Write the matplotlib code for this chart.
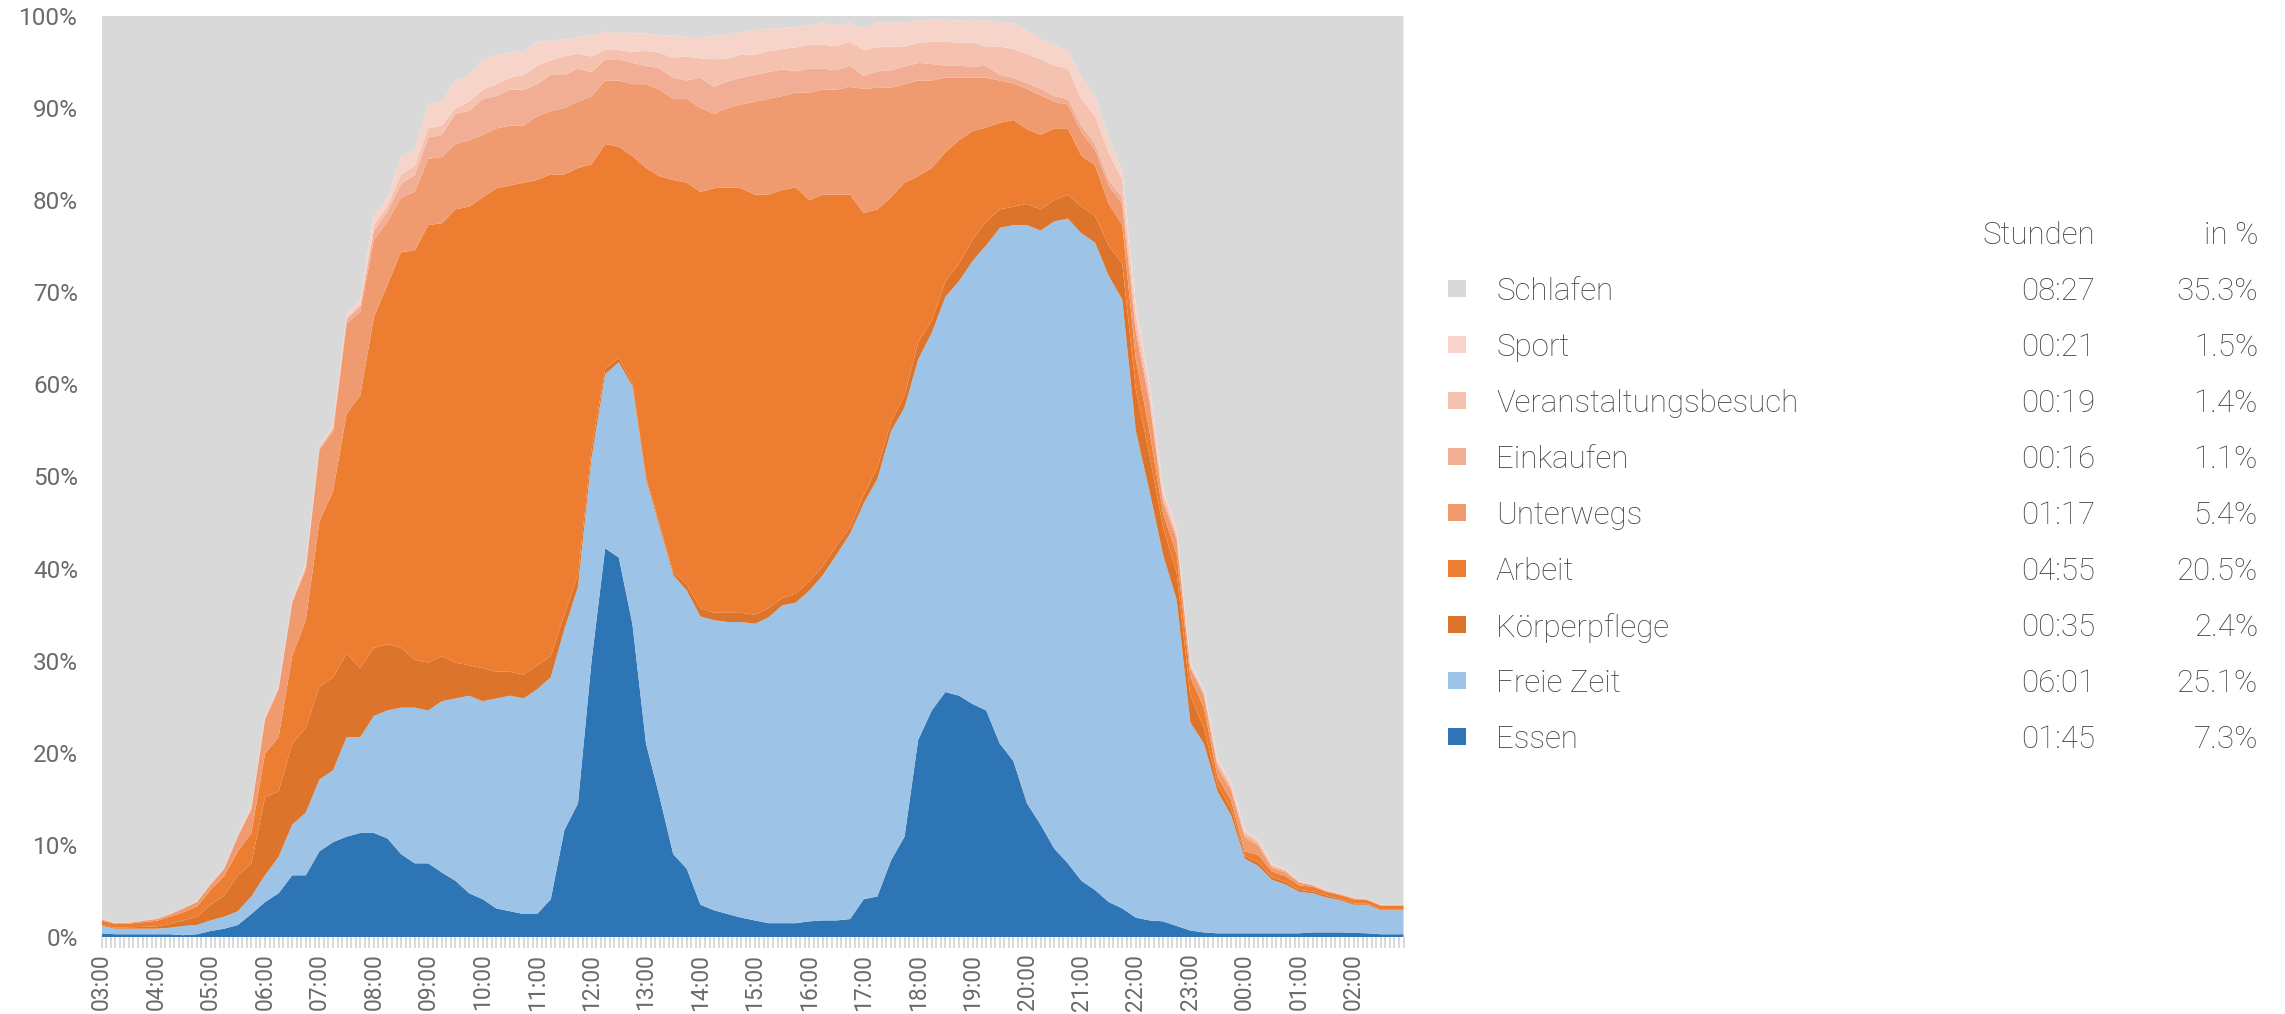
import numpy as np
import matplotlib.pyplot as plt
from matplotlib.patches import Rectangle

plt.rcParams['font.family'] = ['Roboto', 'DejaVu Sans']

# --- data: share of people per activity (%), 15-min steps from 03:00, last point 02:55 ---
minutes = list(range(0, 24 * 60, 15)) + [23 * 60 + 55]

essen = [0.4, 0.3, 0.3, 0.3, 0.3, 0.3, 0.2, 0.3, 0.65, 0.9, 1.3, 2.5,
         3.8, 4.75, 6.7, 6.7, 9.3, 10.3, 10.9, 11.3, 11.3, 10.7, 9.0, 8.0,
         8.0, 7.0, 6.1, 4.75, 4.1, 3.1, 2.8, 2.5, 2.5, 4.1, 11.6, 14.5,
         30.0, 42.2, 41.2, 34.0, 21.0, 15.2, 9.0, 7.4, 3.5, 2.9, 2.5, 2.1,
         1.8, 1.5, 1.5, 1.5, 1.7, 1.8, 1.8, 1.95, 4.1, 4.4, 8.3, 10.9,
         21.4, 24.6, 26.6, 26.2, 25.3, 24.6, 21.0, 19.1, 14.5, 12.2, 9.6, 8.0,
         6.1, 5.1, 3.8, 3.1, 2.1, 1.8, 1.7, 1.2, 0.7, 0.5, 0.4, 0.4,
         0.4, 0.4, 0.4, 0.4, 0.4, 0.5, 0.5, 0.5, 0.45, 0.4, 0.3, 0.3, 0.3]
freie_zeit = [0.8, 0.6, 0.6, 0.6, 0.6, 0.7, 1.0, 1.0, 1.15, 1.3, 1.5, 1.9,
              2.9, 3.95, 5.5, 6.8, 7.8, 7.8, 10.8, 10.4, 12.7, 13.9, 15.9, 16.9,
              16.6, 18.6, 19.8, 21.45, 21.5, 22.8, 23.4, 23.4, 24.4, 24.1, 21.8, 23.5,
              22.0, 18.9, 21.2, 25.8, 28.7, 29.3, 30.3, 30.2, 31.3, 31.5, 31.7, 32.1,
              32.2, 33.2, 34.5, 34.8, 35.9, 37.5, 39.7, 41.85, 43.0, 45.3, 46.6, 46.6,
              41.3, 41.0, 42.9, 45.0, 48.1, 50.5, 56.0, 58.2, 62.8, 64.5, 68.1, 70.0,
              70.3, 70.3, 68.0, 66.1, 52.8, 46.6, 39.8, 35.4, 22.6, 20.5, 15.4, 12.8,
              8.1, 7.3, 5.8, 5.3, 4.5, 4.25, 3.8, 3.5, 3.05, 3.1, 2.6, 2.6, 2.6]
koerperpflege = [0.1, 0.1, 0.15, 0.2, 0.25, 0.4, 0.6, 0.9, 1.7, 2.3, 3.9, 3.6,
                 8.5, 7.1, 8.8, 9.2, 10.1, 10.1, 9.1, 7.5, 7.4, 7.2, 6.5, 5.2,
                 5.2, 4.9, 3.9, 3.3, 3.6, 2.9, 2.6, 2.6, 2.6, 2.3, 1.6, 1.3,
                 1.0, 0.6, 0.5, 0.3, 0.3, 0.3, 0.3, 0.7, 0.9, 0.8, 1.0, 1.0,
                 1.0, 1.0, 0.8, 1.0, 1.0, 1.0, 1.0, 0.7, 0.9, 1.3, 1.0, 1.3,
                 1.9, 1.3, 1.7, 1.9, 2.3, 2.6, 2.0, 2.0, 2.3, 2.3, 2.3, 2.6,
                 2.9, 2.9, 3.3, 3.9, 4.5, 3.9, 3.0, 2.9, 2.9, 1.7, 0.7, 0.7,
                 0.3, 0.4, 0.3, 0.3, 0.2, 0.2, 0.2, 0.15, 0.15, 0.1, 0.1, 0.1, 0.1]
arbeit = [0.5, 0.4, 0.4, 0.5, 0.6, 0.8, 0.9, 1.1, 1.6, 2.1, 2.6, 3.3,
          4.7, 5.9, 9.5, 11.7, 17.9, 20.2, 26.0, 29.6, 35.9, 39.0, 43.0, 44.4,
          47.5, 47.0, 49.2, 49.8, 51.1, 52.5, 52.8, 53.4, 52.7, 52.3, 47.8, 44.2,
          30.9, 24.4, 22.9, 24.7, 33.5, 37.8, 42.6, 43.6, 45.2, 46.1, 46.2, 46.1,
          45.6, 44.9, 44.3, 44.1, 41.4, 40.3, 38.1, 36.1, 30.6, 28.0, 24.4, 23.1,
          18.0, 16.6, 14.0, 13.4, 11.8, 10.2, 9.4, 9.4, 8.1, 8.1, 7.8, 7.2,
          5.5, 5.5, 4.5, 4.2, 3.3, 2.6, 1.5, 2.0, 2.0, 2.2, 0.9, 0.9,
          0.5, 0.8, 0.6, 0.6, 0.5, 0.5, 0.4, 0.4, 0.45, 0.4, 0.4, 0.4, 0.4]
unterwegs = [0.1, 0.1, 0.1, 0.15, 0.2, 0.25, 0.4, 0.5, 0.6, 0.8, 1.6, 2.6,
             3.7, 5.2, 5.8, 5.5, 7.8, 6.5, 9.8, 9.1, 8.4, 6.9, 5.9, 6.4,
             7.2, 7.2, 7.1, 7.2, 6.8, 6.5, 6.5, 6.2, 6.9, 6.9, 7.2, 7.2,
             7.4, 6.9, 7.2, 7.8, 9.1, 9.4, 8.8, 9.1, 9.1, 8.1, 8.6, 9.1,
             10.1, 10.4, 10.2, 10.3, 11.7, 11.4, 11.4, 11.7, 13.5, 13.2, 11.9, 10.7,
             10.4, 9.5, 8.1, 6.8, 5.8, 5.4, 4.6, 4.0, 4.4, 4.3, 2.9, 2.6,
             2.6, 1.7, 2.0, 2.3, 3.0, 3.2, 1.2, 1.7, 1.0, 1.3, 1.0, 1.1,
             1.5, 1.0, 0.4, 0.4, 0.3, 0.15, 0.1, 0.1, 0.1, 0.05, 0.05, 0.05, 0.05]
einkaufen = [0.05, 0.03, 0.03, 0.03, 0.03, 0.03, 0.03, 0.03, 0.05, 0.05, 0.1, 0.1,
             0.2, 0.15, 0.2, 0.3, 0.2, 0.3, 0.5, 0.6, 1.0, 1.1, 1.5, 1.8,
             2.3, 2.4, 3.3, 3.2, 3.9, 3.5, 3.9, 3.9, 3.5, 3.9, 3.6, 3.6,
             2.6, 2.3, 2.3, 2.3, 2.0, 2.3, 2.3, 2.0, 3.3, 2.9, 2.9, 2.9,
             2.9, 2.9, 2.9, 2.3, 2.6, 2.3, 2.1, 2.3, 1.4, 1.8, 1.9, 1.9,
             1.9, 1.8, 1.3, 1.3, 1.2, 1.3, 0.6, 0.6, 0.6, 0.7, 0.6, 0.6,
             0.7, 0.6, 0.6, 0.7, 0.6, 0.4, 0.4, 0.3, 0.2, 0.3, 0.4, 0.3,
             0.3, 0.3, 0.2, 0.2, 0.1, 0.05, 0.05, 0.05, 0.05, 0.03, 0.03, 0.03, 0.03]
veranstaltung = [0.03, 0.01, 0.01, 0.01, 0.01, 0.01, 0.01, 0.01, 0.02, 0.02, 0.03, 0.05,
                 0.05, 0.05, 0.05, 0.1, 0.05, 0.1, 0.2, 0.2, 0.6, 0.6, 1.0, 1.0,
                 1.0, 1.0, 0.6, 1.0, 1.0, 1.3, 1.3, 1.6, 2.0, 1.6, 2.0, 1.6,
                 1.7, 1.0, 1.0, 1.2, 1.6, 1.7, 2.2, 2.6, 2.1, 3.0, 2.5, 2.5,
                 2.2, 2.3, 2.2, 2.6, 2.6, 2.6, 2.6, 2.6, 2.8, 2.6, 2.6, 2.2,
                 2.2, 2.4, 2.6, 2.5, 2.6, 2.1, 3.1, 3.1, 3.2, 3.2, 3.3, 3.3,
                 2.9, 3.0, 3.0, 1.9, 1.3, 0.9, 0.6, 0.4, 0.2, 0.2, 0.3, 0.3,
                 0.3, 0.2, 0.15, 0.1, 0.05, 0.03, 0.03, 0.03, 0.03, 0.01, 0.01, 0.01, 0.01]
sport = [0.02, 0.01, 0.01, 0.01, 0.01, 0.01, 0.01, 0.01, 0.03, 0.03, 0.05, 0.1,
         0.15, 0.1, 0.15, 0.3, 0.15, 0.2, 0.3, 0.5, 1.0, 0.9, 2.0, 1.8,
         2.6, 2.6, 3.0, 2.9, 3.2, 3.2, 2.7, 2.6, 2.6, 2.1, 1.9, 1.8,
         2.3, 2.0, 1.9, 2.0, 1.9, 1.9, 2.4, 2.1, 2.3, 2.5, 2.6, 2.4,
         2.7, 2.4, 2.3, 2.2, 2.1, 2.3, 2.3, 2.0, 2.4, 2.7, 2.6, 2.6,
         2.4, 2.4, 2.4, 2.4, 2.5, 2.8, 2.6, 2.8, 2.6, 2.2, 2.3, 1.9,
         2.3, 2.2, 1.6, 1.0, 1.0, 0.7, 0.5, 0.4, 0.2, 0.2, 0.3, 0.3,
         0.2, 0.2, 0.15, 0.1, 0.05, 0.02, 0.02, 0.02, 0.02, 0.01, 0.01, 0.01, 0.01]

awake = [essen, freie_zeit, koerperpflege, arbeit, unterwegs, einkaufen, veranstaltung, sport]
# 100 % stacked: sleeping is what is left
schlafen = 100 - np.sum(awake, axis=0)

legend_labels = ['Schlafen', 'Sport', 'Veranstaltungsbesuch', 'Einkaufen', 'Unterwegs',
                 'Arbeit', 'Körperpflege', 'Freie Zeit', 'Essen']
stunden = ['08:27', '00:21', '00:19', '00:16', '01:17', '04:55', '00:35', '06:01', '01:45']
prozent = ['35.3%', '1.5%', '1.4%', '1.1%', '5.4%', '20.5%', '2.4%', '25.1%', '7.3%']

colors = ['#2E75B6', '#9DC3E6', '#DD742C', '#ED7D31', '#F09A70',
          '#F2AE94', '#F4C2AF', '#F6D4C9', '#D9D9D9']
legend_colors = colors[::-1]

W, H = 2285, 1014
TXT = '#404040'
TICK = '#6A6A6A'
FS = 22.5

fig = plt.figure(figsize=(W / 100, H / 100), dpi=100)
ax = fig.add_axes([101.7 / W, 1 - 937 / H, (1403.5 - 101.7) / W, (937 - 16) / H])

ax.stackplot(minutes, *awake, schlafen, colors=colors, linewidth=0)
ax.set_xlim(0, 23 * 60 + 55)
ax.set_ylim(0, 100)

for s in ax.spines.values():
    s.set_visible(False)

ax.set_yticks(range(0, 101, 10))
ax.set_yticklabels([f'{v}%' for v in range(0, 101, 10)])
ax.tick_params(axis='y', length=0, pad=17, labelsize=17.5, labelcolor=TICK)

ax.set_xticks(range(0, 24 * 60, 60))
ax.set_xticklabels([f'{(3 + h) % 24:02d}:00' for h in range(24)])
ax.set_xticks(range(0, 24 * 60, 5), minor=True)
ax.tick_params(axis='x', which='both', length=8, width=1.4, color='#D9D9D9',
               direction='out', pad=4)
ax.tick_params(axis='x', which='major', labelsize=16.5, labelcolor=TICK, labelrotation=90)

# --- table legend on the right ---
row_y = [288 + i * 56.1 for i in range(len(legend_labels))]
txt_kw = dict(va='center_baseline', fontsize=FS, color=TXT, fontweight='light')
fig.text(2095 / W, 1 - 232 / H, 'Stunden', ha='right', **txt_kw)
fig.text(2258 / W, 1 - 232 / H, 'in %', ha='right', **txt_kw)
for lab, st, pc, col, y in zip(legend_labels, stunden, prozent, legend_colors, row_y):
    fig.add_artist(Rectangle((1448 / W, 1 - (y + 8.5) / H), 18 / W, 17 / H,
                             transform=fig.transFigure, facecolor=col, edgecolor='none'))
    fig.text(1496 / W, 1 - y / H, lab, ha='left', **txt_kw)
    fig.text(2095 / W, 1 - y / H, st, ha='right', **txt_kw)
    fig.text(2258 / W, 1 - y / H, pc, ha='right', **txt_kw)

fig.savefig('out.png', dpi=100, facecolor='white')
